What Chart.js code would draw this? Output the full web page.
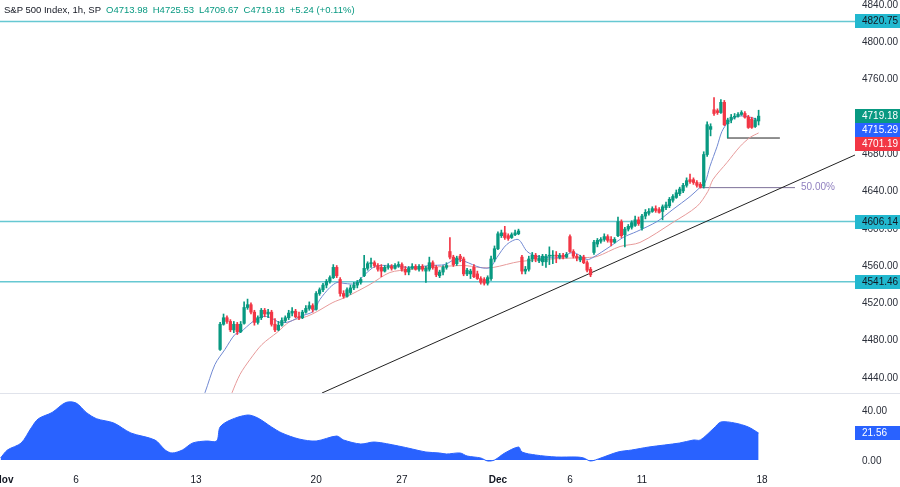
<!DOCTYPE html>
<html>
<head>
<meta charset="utf-8">
<script src="https://cdn.jsdelivr.net/npm/chart.js@4.4.0/dist/chart.umd.min.js"></script>
<style>
html,body{margin:0;padding:0;background:#fff;}
#wrap{position:relative;width:900px;height:487px;}
#title{position:absolute;left:4px;top:4px;font:9.5px "Liberation Sans",Arial,sans-serif;color:#131722;white-space:nowrap;}
#title span{color:#089981;margin-left:5px;}
</style>
</head>
<body>
<div id="wrap">
<canvas id="c" width="900" height="487"></canvas>
<div id="title">S&amp;P 500 Index, 1h, SP<span>O4713.98</span><span>H4725.53</span><span>L4709.67</span><span>C4719.18</span><span>+5.24 (+0.11%)</span></div>
</div>
<script>
// hourly bars, index 0 = first bar of Nov 1; candles shown from Nov 14 (index 63)
const firstBar = 63;

const opens = [
4469,4496,4503,4499,4490,4496,4488,
4497,4514,4517,4509,4498,4503,4511,
4507,4509,4496,4490,4495,4500,4503,
4508,4510,4504,4503,4509,4513,4516,
4512,4529,4533,4538,4542,4546,4557,
4544,4529,4526,4530,4535,4538,4541,
4548,4556,4561,4562,4559,4557,4553,
4557,4558,4556,4559,
4560,4555,4552,4556,4558,4555,4558,
4553,4555,4562,4557,4548,4552,4557,
4574,4568,4561,4569,4566,4550,4550,
4557,4550,4545,4544,4540,4545,4566,
4577,4591,4594,4591,4589,4592,4593,
4568,4553,4555,4566,4570,4564,4563,
4563,4569,4569,4570,4568,4570,4568,
4590,4574,4569,4565,4568,4562,4555,
4573,4582,4585,4587,4590,4587,4584,
4591,4606,4592,4598,4600,4602,4608,
4599,4612,4615,4617,4620,4619,4617,
4621,4623,4629,4632,4636,4639,4645,
4651,4651,4648,4646,4644,4678,4705,
4726,4725,4723,4734,4711,4715,4718,
4719,4721,4722,4718,4716,4708,4713.98
];
const highs = [
4498,4507,4505,4501,4499,4498,4499,
4520,4523,4519,4511,4505,4513,4513,
4512,4511,4502,4499,4503,4505,4511,
4514,4512,4509,4511,4516,4520,4518,
4531,4535,4540,4544,4548,4560,4559,
4546,4532,4535,4538,4541,4543,4546,
4570,4563,4567,4564,4561,4560,4559,
4561,4560,4561,4563,
4562,4558,4558,4561,4560,4560,4560,
4558,4568,4564,4559,4554,4559,4562,
4589,4570,4569,4571,4568,4556,4555,
4560,4553,4547,4546,4548,4569,4580,
4595,4597,4601,4593,4594,4597,4598,
4570,4558,4569,4573,4572,4570,4571,
4571,4579,4575,4574,4572,4572,4573,
4592,4576,4571,4570,4570,4564,4557,
4586,4588,4589,4593,4592,4590,4589,
4611,4608,4600,4603,4607,4612,4611,
4614,4619,4620,4622,4623,4621,4624,
4627,4632,4635,4640,4643,4647,4653,
4657,4653,4650,4648,4681,4713,4711,
4739,4727,4737,4736,4717,4721,4722,
4723,4725,4724,4720,4718,4717,4725.53
];
const lows = [
4468,4495,4497,4488,4487,4485,4487,
4496,4512,4507,4495,4496,4501,4504,
4503,4494,4488,4489,4494,4498,4501,
4505,4503,4501,4502,4508,4511,4509,
4511,4527,4531,4535,4540,4545,4546,
4526,4524,4525,4528,4533,4535,4539,
4547,4554,4557,4557,4553,4547,4552,
4555,4554,4555,4557,
4553,4549,4549,4555,4554,4553,4553,
4541,4553,4555,4547,4546,4549,4555,
4566,4558,4559,4563,4548,4548,4545,
4546,4544,4539,4538,4538,4543,4563,
4576,4589,4587,4586,4588,4591,4592,
4550,4550,4553,4563,4563,4562,4559,
4557,4560,4561,4562,4566,4566,4567,
4573,4567,4564,4563,4561,4552,4547,
4571,4579,4583,4585,4584,4580,4583,
4590,4589,4579,4596,4598,4601,4602,
4597,4609,4613,4616,4616,4615,4608,
4619,4621,4627,4631,4634,4637,4643,
4647,4646,4643,4642,4642,4676,4698,
4720,4721,4722,4709,4696,4712,4716,
4718,4720,4717,4706,4706,4707,4709.67
];
const closes = [
4496,4503,4499,4490,4496,4488,4496,
4514,4517,4509,4498,4503,4511,4507,
4509,4496,4490,4495,4500,4503,4508,
4510,4504,4503,4509,4513,4516,4512,
4529,4533,4538,4542,4546,4557,4548,
4529,4526,4533,4535,4538,4541,4544,
4556,4561,4562,4559,4555,4553,4557,
4558,4556,4559,4560,
4555,4552,4556,4558,4555,4558,4555,
4556,4562,4557,4549,4552,4557,4559,
4568,4560,4567,4566,4550,4554,4553,
4547,4545,4541,4540,4546,4566,4577,
4593,4594,4589,4588,4592,4594,4596,
4553,4555,4566,4570,4566,4567,4569,
4569,4570,4570,4569,4570,4568,4571,
4574,4569,4567,4568,4562,4554,4549,
4584,4586,4587,4590,4586,4584,4587,
4606,4591,4598,4601,4605,4608,4604,
4612,4616,4617,4620,4618,4616,4622,
4624,4630,4633,4637,4641,4645,4650,
4649,4648,4645,4643,4678,4710,4708,
4722,4723,4734,4710,4715,4718,4719,
4721,4723,4718,4707,4707,4715,4719.18
];

// moving averages (bar index, value)
const maBlueIdx = [57.1,58.6,61.5,64.4,67.3,68.8,72.6,75.5,77.6,80.5,83.4,86.3,90.1,92.1,95,97.1,99.4,102.3,105.2,108.2,112.5,118.4,124.2,128.6,131.5,134.4,138.8,141.7,143.7,146.6,149.9,152.5,155.4,162.1,165.9,170,171.7,176.7,180.5,184.5,190.4,195,200,202.9,204.4,205.8,207.9,209.3,211.1,213.7,216.6,220];
const maBlue = [4410,4422.8,4452.9,4469,4485,4487.2,4499,4504.4,4503.3,4497.9,4499,4504.4,4509.7,4522.6,4535.4,4540.8,4539.7,4539.7,4549.4,4558,4559,4556.9,4559,4560.1,4565.5,4563.3,4556.9,4556.9,4567.6,4581.6,4586.9,4574.1,4568.7,4567.6,4573,4565.5,4567.6,4579.4,4589.1,4595.5,4606.2,4619.1,4633,4642.7,4648,4665.2,4686.7,4702.7,4712.4,4718.8,4718.8,4715.29];
const maRedIdx = [65.3,66.5,68.8,71.7,75.2,79.6,83.4,88.3,91.3,95.9,99.4,106.7,112.5,118.4,124.2,133.8,138.8,142.6,150.4,162.1,170,172.9,179.6,185.4,195,202,205.2,206.7,210.8,214.6,217.5,220];
const maRed = [4410,4422.8,4442.2,4458.2,4474.3,4487.2,4499,4504.4,4509.7,4519.4,4524.7,4538.7,4551.5,4554.7,4556.9,4559,4556.9,4556.9,4563.3,4566.5,4567.6,4568.7,4579.4,4583.7,4605.2,4622.3,4638.4,4651.3,4669.5,4686.7,4696.3,4701.19];

// lower pane oscillator
const oscIdx = [-1,1,5,8,10,14,18,21,24,27,32,37,44,47,49,52,55,59,62,63,66,71,74,78,81,86,91,97,99,104,108,115,119,123,127,129,133,135,139,141,143,146,150,151,155,161,167,169,171,174,179,183,188,197,201,203,207,209,213,217,220];
const oscVals = [1.6,8,13.6,26,33,38,46,45.6,38,33,29.6,21.6,16,8,5.6,8,13.6,15.2,15.2,26.4,32,36,33.6,26.4,21.6,16.8,15.2,19.2,16,12.8,14.4,11.2,8.8,6.4,5.6,4.8,5.6,3.2,1.6,-0.8,0,5.6,10.4,6.4,4,2.4,2.4,1.6,-0.8,1.6,6.4,8,10.4,13.6,16,16,25.6,30.4,29.6,26.4,21.56];

// drawings
const levels = [4820.75, 4606.14, 4541.46];
const trendIdx = [92.7, 248.1];
const trendPrice = [4422.3, 4677.5];
const fibIdx = [203, 230.6];
const fibPrice = 4642.5;
const swingIdx = [210.8, 226.2];
const swingPrice = 4695.7;

const lastClose = 4719.18, lastBlue = 4715.29, lastRed = 4701.19, lastOsc = 21.56;

// axes
const priceTicks = [4440,4480,4520,4560,4600,4640,4680,4720,4760,4800,4840];
const oscTicks = [0, 40];
const dayIdx = [0,21,56,91,116,144,165,186,221];
const dayLabels = ['Nov','6','13','20','27','Dec','6','11','18'];
const xMin = -1.17, xMax = 248.1;
const yMin = 4422.3, yMax = 4843.7;

const UP = '#089981', DOWN = '#f23645';
const FONT = '"Liberation Sans", Arial, sans-serif';

const wickData = [], bodyData = [], candleColors = [];
for (let k = 0; k < closes.length; k++) {
  wickData.push({x: firstBar + k, y: [lows[k], highs[k]]});
  bodyData.push({x: firstBar + k, y: [opens[k], closes[k]]});
  candleColors.push(closes[k] >= opens[k] ? UP : DOWN);
}

const pts = (xs, ys) => xs.map((v, k) => ({x: v, y: ys[k]}));
const lineDs = (data, color, width, axis, extra) => Object.assign({
  type: 'line', data, borderColor: color, borderWidth: width, pointRadius: 0,
  fill: false, yAxisID: axis || 'y'
}, extra || {});

const datasets = [
  {type: 'bar', data: bodyData, backgroundColor: candleColors, barThickness: 2.6, grouped: false, minBarLength: 1, yAxisID: 'y'},
  {type: 'bar', data: wickData, backgroundColor: candleColors, barThickness: 1, grouped: false, yAxisID: 'y'},
  lineDs(pts(maBlueIdx, maBlue), '#7189d2', 1, 'y', {tension: 0.3}),
  lineDs(pts(maRedIdx, maRed), '#e79a9a', 1, 'y', {tension: 0.3}),
  lineDs(pts(trendIdx, trendPrice), '#222222', 1),
  lineDs(pts(fibIdx, [fibPrice, fibPrice]), '#7d7199', 1),
  lineDs(pts(swingIdx, [swingPrice, swingPrice]), '#222222', 1),
  ...levels.map(v => lineDs(pts([xMin, xMax], [v, v]), '#66c8d2', 1.5)),
  lineDs(pts(oscIdx, oscVals), '#2962ff', 1, 'y2', {fill: 'origin', backgroundColor: '#2962ff', tension: 0.3})
];

// keep each dataset inside its own pane
const paneClip = {
  id: 'paneClip',
  beforeDatasetDraw(chart, args) {
    const ds = chart.data.datasets[args.index];
    const sc = chart.scales[ds.yAxisID || 'y'];
    const a = chart.chartArea;
    chart.ctx.save();
    chart.ctx.beginPath();
    chart.ctx.rect(a.left, sc.top, a.right - a.left, sc.bottom - sc.top);
    chart.ctx.clip();
  },
  afterDatasetDraw(chart) { chart.ctx.restore(); }
};

const overlay = {
  id: 'overlay',
  afterDraw(chart) {
    const ctx = chart.ctx, y = chart.scales.y, y2 = chart.scales.y2, x = chart.scales.x;
    const right = chart.chartArea.right;
    ctx.save();
    ctx.strokeStyle = '#e0e3eb';
    ctx.lineWidth = 1;
    ctx.beginPath();
    ctx.moveTo(0, Math.round(y2.top) + 0.5);
    ctx.lineTo(chart.width, Math.round(y2.top) + 0.5);
    ctx.stroke();

    ctx.font = '10px ' + FONT;
    ctx.textBaseline = 'middle';
    ctx.textAlign = 'left';
    ctx.fillStyle = '#8f7fbf';
    ctx.fillText('50.00%', x.getPixelForValue(fibIdx[1]) + 6, y.getPixelForValue(fibPrice));

    const tag = (py, text, bg, fg) => {
      ctx.fillStyle = bg;
      ctx.fillRect(right, Math.round(py - 7), chart.width - right, 14);
      ctx.fillStyle = fg;
      ctx.fillText(text, right + 7, Math.round(py) + 0.5);
    };
    levels.forEach(v => tag(y.getPixelForValue(v), v.toFixed(2), '#22b8cf', '#131722'));
    let prev = -1e9;
    [[lastClose, UP], [lastBlue, '#2962ff'], [lastRed, DOWN]].forEach(([v, c]) => {
      const py = Math.max(y.getPixelForValue(v), prev + 14);
      tag(py, v.toFixed(2), c, '#ffffff');
      prev = py;
    });
    tag(y2.getPixelForValue(lastOsc), lastOsc.toFixed(2), '#2962ff', '#ffffff');
    ctx.restore();
  }
};

const yAxis = (min, max, weight, ticksList) => ({
  type: 'linear', position: 'right', stack: 'pane', stackWeight: weight, min, max,
  grid: {display: false, drawTicks: false}, border: {display: false},
  afterFit: s => { s.width = 45; s.paddingTop = 0; s.paddingBottom = 0; },
  afterBuildTicks: s => { s.ticks = ticksList.map(v => ({value: v})); },
  ticks: {padding: 7, labelOffset: 1.5, color: '#2a2e39', font: {family: FONT, size: 10}, callback: v => v.toFixed(2)}
});

new Chart(document.getElementById('c'), {
  type: 'bar',
  data: {datasets},
  options: {
    responsive: false,
    animation: false,
    events: [],
    layout: {padding: 0},
    plugins: {legend: {display: false}, tooltip: {enabled: false}},
    scales: {
      x: {
        type: 'linear', min: xMin, max: xMax, offset: false,
        grid: {display: false, drawTicks: false, offset: false}, border: {display: false},
        afterFit: s => { s.height = 22; s.paddingLeft = 0; s.paddingRight = 0; },
        afterBuildTicks: s => { s.ticks = dayIdx.map(v => ({value: v})); },
        ticks: {
          autoSkip: false, maxRotation: 0, padding: 9, color: '#131722',
          font: c => ({family: FONT, size: 10, weight: /[A-Za-z]/.test(dayLabels[c.index] || '') ? 'bold' : 'normal'}),
          callback: (v, i) => dayLabels[i]
        }
      },
      y: yAxis(yMin, yMax, 393, priceTicks),
      y2: yAxis(-4, 53.6, 72, oscTicks)
    }
  },
  plugins: [paneClip, overlay]
});
</script>
</body>
</html>
